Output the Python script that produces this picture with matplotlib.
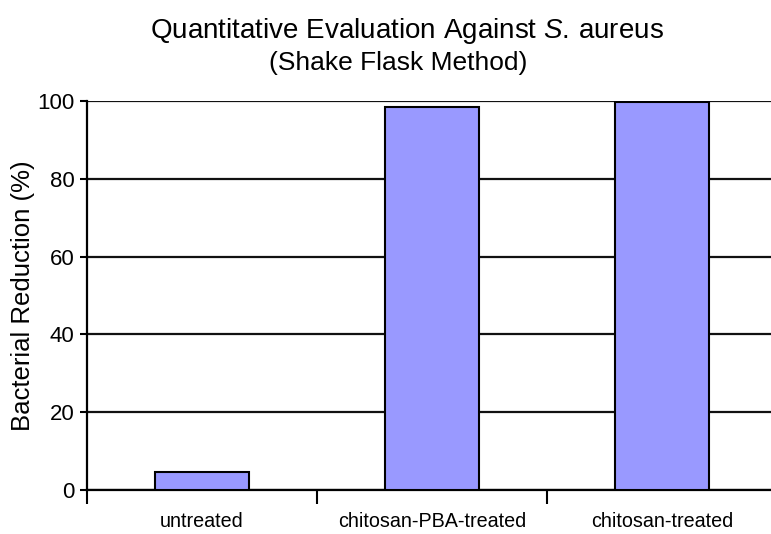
import numpy as np
import matplotlib.pyplot as plt

plt.rcParams['font.family'] = 'Liberation Sans'
plt.rcParams['mathtext.fontset'] = 'custom'
plt.rcParams['mathtext.it'] = 'Liberation Sans:italic'
plt.rcParams['mathtext.rm'] = 'Liberation Sans'

categories = ['untreated', 'chitosan-PBA-treated', 'chitosan-treated']
reduction = [4.6, 98.5, 99.7]
yticks = [0, 20, 40, 60, 80, 100]

fig = plt.figure(figsize=(7.71, 5.34), dpi=100)
ax = fig.add_axes([87/771, 1 - 490/534, 690/771, 389/534])

x = np.arange(len(categories))
ax.bar(x, reduction, width=0.41, color='#9999ff', edgecolor='black', linewidth=1.5, zorder=3)

ax.set_xlim(-0.5, 2.5)
ax.set_ylim(0, 100)
ax.set_yticks(yticks)
ax.yaxis.grid(True, color='#111111', linewidth=1.6)
ax.set_axisbelow(True)

# category boundaries carry the tick marks, names sit in between
ax.set_xticks(x - 0.5)
ax.set_xticklabels([])
ax.set_xticks(x, minor=True)
ax.set_xticklabels(categories, minor=True, fontsize=14.2)
ax.tick_params(axis='x', which='minor', length=0, pad=16)
ax.tick_params(axis='x', which='major', length=10, width=1.5, direction='out')
ax.tick_params(axis='y', length=5, width=1.5, labelsize=16, pad=4)

for s in ['top', 'right']:
    ax.spines[s].set_visible(False)
for s in ['left', 'bottom']:
    ax.spines[s].set_linewidth(1.6)
ax.spines['left'].set_bounds(0, 100)

ax.set_ylabel('Bacterial Reduction (%)', fontsize=18.5)
ax.yaxis.set_label_coords(-0.076, 0.5)

fig.text(407/771, 1 - 31/534, r'Quantitative Evaluation Against $\mathit{S.}\,$aureus',
         ha='center', va='center', fontsize=20)
fig.text(398/771, 1 - 63/534, '(Shake Flask Method)', ha='center', va='center', fontsize=19)

fig.savefig('out.png', dpi=100)
